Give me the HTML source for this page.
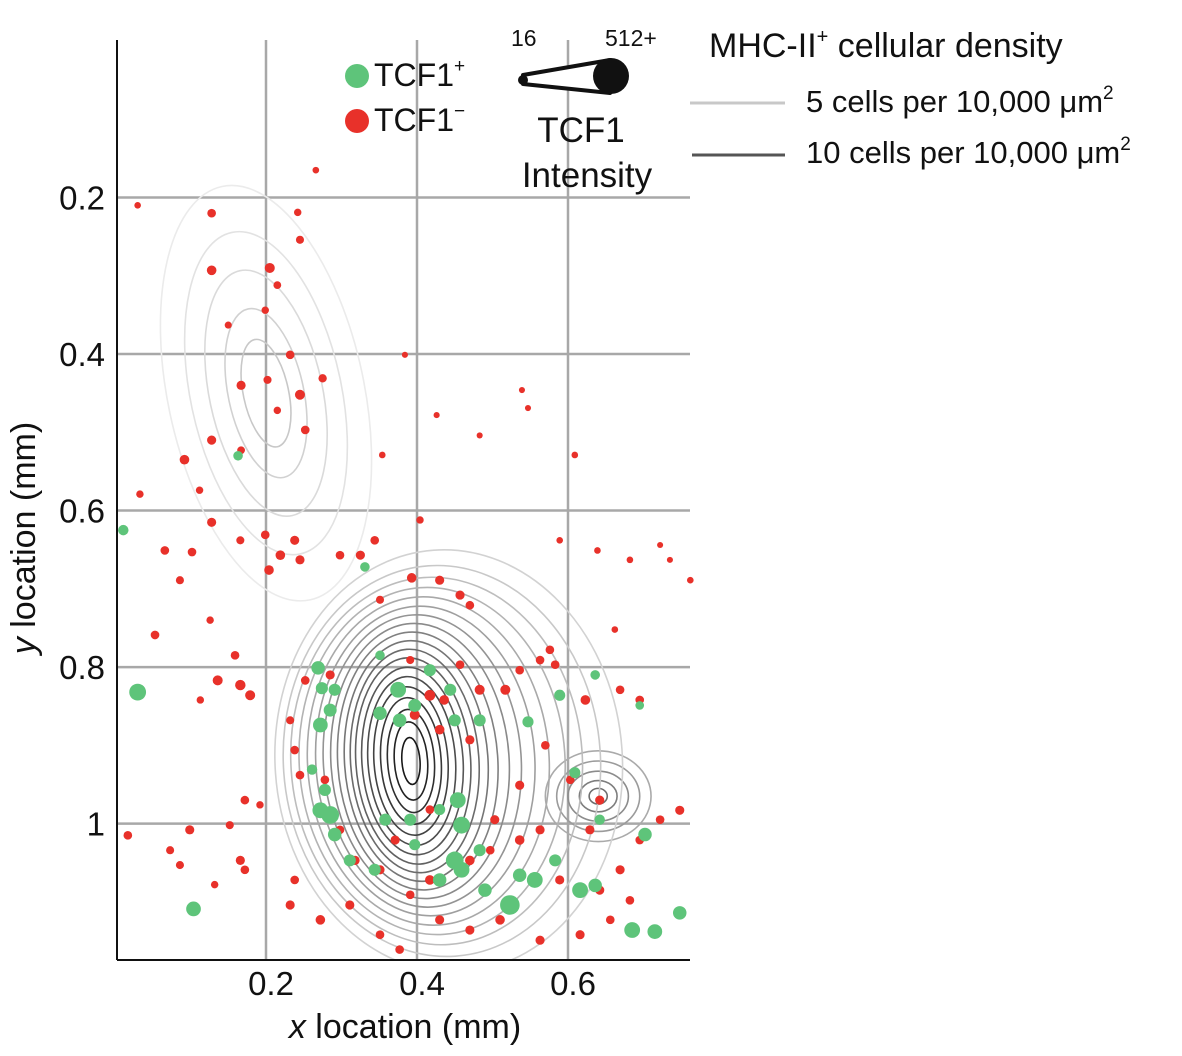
<!DOCTYPE html>
<html><head><meta charset="utf-8"><style>
body{margin:0;background:#fff;}
svg{display:block;font-family:"Liberation Sans",Arial,sans-serif;}
</style></head><body>
<svg id="chart" width="1182" height="1056" viewBox="0 0 1182 1056">
<g id="grid"></g>
<g id="contours"></g>
<g id="points"></g>
<g id="axes"></g>
<g>
  <circle cx="357" cy="76" r="12" fill="#5ec47a"/>
  <text x="374" y="86" font-size="32" fill="#111">TCF1<tspan font-size="19" dy="-14">+</tspan></text>
  <circle cx="357" cy="121" r="12" fill="#e8312a"/>
  <text x="374" y="131" font-size="32" fill="#111">TCF1<tspan font-size="19" dy="-14">−</tspan></text>
  <text x="511" y="46" font-size="23" fill="#111">16</text>
  <text x="605" y="46" font-size="23" fill="#111">512+</text>
  <path d="M523,75 L610,60 L610,93 L523,84 Z" fill="#fff" stroke="#111" stroke-width="4" stroke-linejoin="round"/>
  <circle cx="523" cy="80" r="5" fill="#111"/>
  <ellipse cx="611" cy="76" rx="18" ry="18" fill="#111"/>
  <text x="581" y="142" font-size="35" fill="#111" text-anchor="middle">TCF1</text>
  <text x="587" y="187" font-size="35" fill="#111" text-anchor="middle">Intensity</text>
  <text x="709" y="57" font-size="34" fill="#111">MHC-II<tspan font-size="20" dy="-14">+</tspan><tspan dy="14"> cellular density</tspan></text>
  <line x1="690" y1="103" x2="785" y2="103" stroke="#c8c8c8" stroke-width="3"/>
  <text x="806" y="112" font-size="31" fill="#111">5 cells per 10,000 μm<tspan font-size="19" dy="-13">2</tspan></text>
  <line x1="692" y1="155" x2="785" y2="155" stroke="#555" stroke-width="3"/>
  <text x="806" y="163" font-size="31" fill="#111">10 cells per 10,000 μm<tspan font-size="19" dy="-13">2</tspan></text>
</g>
</svg>
<script>
const xTicks=[0.2,0.4,0.6];
const yTicks=[0.2,0.4,0.6,0.8,1];
const yTickLabels=["0.2","0.4","0.6","0.8","1"];
const xTickLabels=["0.2","0.4","0.6"];
// main density peak rings
const mainRx=[0.012,0.022,0.031,0.040,0.049,0.058,0.067,0.076,0.085,0.095,0.106,0.118,0.131,0.145,0.160,0.176,0.193,0.21,0.23];
const mainRy=[0.030,0.050,0.066,0.081,0.095,0.108,0.120,0.132,0.143,0.154,0.165,0.176,0.187,0.198,0.210,0.222,0.235,0.25,0.27];
const mainShift=[0,0,0,0,0,0.001,0.002,0.003,0.005,0.007,0.009,0.012,0.015,0.019,0.023,0.028,0.034,0.041,0.05];
const mainCenter=[0.392,0.92];
const secRx=[0.012,0.025,0.04,0.055,0.07];
const secRy=[0.01,0.02,0.032,0.045,0.058];
const secCenter=[0.64,0.965];
const ridgeRx=[0.03,0.05,0.075,0.1,0.13];
const ridgeRy=[0.07,0.11,0.16,0.21,0.27];
const ridgeCenter=[0.2,0.45];
const redX=[0.030,0.128,0.242,0.245,0.205,0.128,0.215,0.199,0.150,0.232,0.202,0.275,0.245,0.167,0.215,0.252,0.128,0.092,0.167,0.112,0.426,0.539,0.547,0.609,0.354,0.483,0.033,0.066,0.102,0.128,0.166,0.199,0.219,0.238,0.204,0.245,0.298,0.325,0.344,0.404,0.393,0.430,0.457,0.470,0.351,0.086,0.126,0.053,0.159,0.136,0.166,0.179,0.113,0.252,0.285,0.391,0.417,0.436,0.457,0.483,0.517,0.563,0.583,0.623,0.669,0.695,0.232,0.238,0.245,0.278,0.172,0.192,0.152,0.099,0.017,0.073,0.086,0.166,0.172,0.132,0.238,0.232,0.272,0.311,0.351,0.377,0.430,0.470,0.510,0.563,0.616,0.656,0.682,0.715,0.748,0.722,0.695,0.669,0.642,0.589,0.563,0.536,0.497,0.503,0.470,0.417,0.391,0.371,0.351,0.318,0.298,0.642,0.629,0.603,0.570,0.536,0.417,0.397,0.430,0.470,0.722,0.735,0.682,0.639,0.662,0.266,0.384,0.589,0.762,0.576,0.536];
const redY=[0.210,0.220,0.219,0.254,0.290,0.293,0.312,0.344,0.363,0.401,0.433,0.431,0.452,0.440,0.472,0.497,0.510,0.535,0.523,0.574,0.478,0.446,0.469,0.529,0.529,0.504,0.579,0.651,0.653,0.615,0.638,0.631,0.657,0.638,0.676,0.663,0.657,0.657,0.638,0.612,0.686,0.689,0.708,0.721,0.714,0.689,0.740,0.759,0.785,0.817,0.823,0.836,0.842,0.817,0.810,0.791,0.836,0.842,0.797,0.829,0.829,0.791,0.797,0.842,0.829,0.842,0.868,0.906,0.938,0.944,0.970,0.976,1.002,1.008,1.015,1.034,1.053,1.047,1.059,1.078,1.072,1.104,1.123,1.104,1.142,1.161,1.123,1.136,1.123,1.149,1.142,1.123,1.098,1.136,0.983,0.995,1.021,1.059,1.085,1.072,1.008,1.021,1.034,0.995,1.047,1.072,1.091,1.021,1.059,1.047,1.008,0.970,1.008,0.944,0.900,0.951,0.982,0.861,0.880,0.893,0.644,0.663,0.663,0.651,0.752,0.165,0.401,0.638,0.689,0.778,0.804];
const redI=[30,60,40,50,90,80,45,40,35,60,50,55,90,70,40,60,70,80,45,40,25,25,25,30,30,25,40,60,60,70,50,60,80,70,80,70,60,70,60,40,80,70,70,60,50,50,40,60,60,90,100,90,40,60,70,50,110,80,60,90,90,60,60,80,60,60,50,60,60,60,60,40,50,70,60,50,50,70,60,40,60,70,80,70,60,60,70,70,80,70,70,60,60,60,70,60,60,70,70,70,70,80,60,70,80,80,60,70,70,70,60,70,70,60,60,70,60,90,80,70,25,25,30,30,30,30,25,30,30,60,60];
const greenX=[0.269,0.274,0.291,0.285,0.272,0.351,0.375,0.377,0.397,0.351,0.417,0.444,0.450,0.483,0.547,0.589,0.636,0.695,0.609,0.261,0.278,0.272,0.285,0.291,0.311,0.344,0.358,0.391,0.430,0.454,0.459,0.450,0.459,0.483,0.490,0.523,0.556,0.536,0.583,0.616,0.636,0.642,0.702,0.685,0.715,0.748,0.030,0.011,0.104,0.163,0.331,0.430,0.397];
const greenY=[0.801,0.827,0.829,0.855,0.874,0.859,0.829,0.868,0.849,0.785,0.804,0.829,0.868,0.868,0.870,0.836,0.810,0.849,0.935,0.931,0.957,0.983,0.989,1.014,1.047,1.059,0.995,0.995,0.982,0.970,1.002,1.047,1.059,1.034,1.085,1.104,1.072,1.066,1.047,1.085,1.079,0.995,1.014,1.136,1.138,1.114,0.832,0.625,1.109,0.530,0.672,1.072,1.027];
const greenI=[200,150,150,180,250,200,300,200,180,80,150,150,150,150,120,120,80,60,120,100,150,300,400,200,150,150,150,150,120,300,350,400,300,150,200,512,300,200,150,300,200,100,200,300,250,200,350,100,250,80,80,200,120];

const NS="http://www.w3.org/2000/svg";
const X0=115,XS=755,Y0=41,YS=782.6;
const sx=v=>X0+v*XS, sy=v=>Y0+v*YS;
const rs=v=>2+7.8*Math.sqrt(Math.max(0,Math.min(512,v)-16)/496);
function mk(t,a,p){const e=document.createElementNS(NS,t);for(const k in a)e.setAttribute(k,a[k]);p.appendChild(e);return e;}
const L=117,R=690,T=40,B=960;
const grid=document.getElementById('grid');
xTicks.forEach((v,i)=>{const e=mk('line',{x1:sx(v),x2:sx(v),y1:T,y2:B,stroke:'#a8a8a8','stroke-width':2.5},grid);

});
yTicks.forEach((v,i)=>{const e=mk('line',{x1:L,x2:R,y1:sy(v),y2:sy(v),stroke:'#a8a8a8','stroke-width':2.5},grid);

});
const cg=document.getElementById('contours');
const clip=mk('clipPath',{id:'pc'},mk('defs',{},document.getElementById('chart')));
mk('rect',{x:L,y:T,width:R-L,height:B-T},clip);
cg.setAttribute('clip-path','url(#pc)');
function rings(rx,ry,c,shift,rot,shade0,shade1,name){rx.forEach((r,i)=>{const f=i/(rx.length-1);const g=Math.round(shade0+(shade1-shade0)*f);
const cx=sx(c[0]+(shift?shift[i]:0)),cy=sy(c[1]);
const e=mk('ellipse',{cx:cx,cy:cy,rx:r*XS,ry:ry[i]*YS,fill:'none',stroke:`rgb(${g},${g},${g})`,'stroke-width':1.6,transform:`rotate(${rot} ${cx} ${cy})`},cg);

});}
rings(ridgeRx,ridgeRy,ridgeCenter,null,-12,200,235,'ridge');
rings(secRx,secRy,secCenter,null,0,110,170,'secondary');
rings(mainRx,mainRy,mainCenter,mainShift,-4,25,210,'main');
const pg=document.getElementById('points');
redX.forEach((x,i)=>{const e=mk('circle',{cx:sx(x),cy:sy(redY[i]),r:rs(redI[i]),fill:'#e8312a'},pg);

});
greenX.forEach((x,i)=>{const e=mk('circle',{cx:sx(x),cy:sy(greenY[i]),r:rs(greenI[i]),fill:'#5ec47a'},pg);

});
const ax=document.getElementById('axes');
let e=mk('line',{x1:L,x2:L,y1:T,y2:B,stroke:'#111','stroke-width':2},ax);


e=mk('line',{x1:L,x2:R,y1:B,y2:B,stroke:'#111','stroke-width':2},ax);


yTicks.forEach((v,i)=>{const t=mk('text',{x:105,y:sy(v)+12,'text-anchor':'end','font-size':33,fill:'#111'},ax);t.textContent=yTickLabels[i];

});
xTicks.forEach((v,i)=>{const t=mk('text',{x:sx(v)+5,y:995,'text-anchor':'middle','font-size':33,fill:'#111'},ax);t.textContent=xTickLabels[i];

});
let t=mk('text',{x:405,y:1038,'text-anchor':'middle','font-size':34,fill:'#111'},ax);
t.innerHTML='<tspan font-style="italic">x</tspan> location (mm)';


t=mk('text',{x:0,y:0,'text-anchor':'middle','font-size':34,fill:'#111',transform:'translate(35,538) rotate(-90)'},ax);
t.innerHTML='<tspan font-style="italic">y</tspan> location (mm)';


</script>
</body></html>
